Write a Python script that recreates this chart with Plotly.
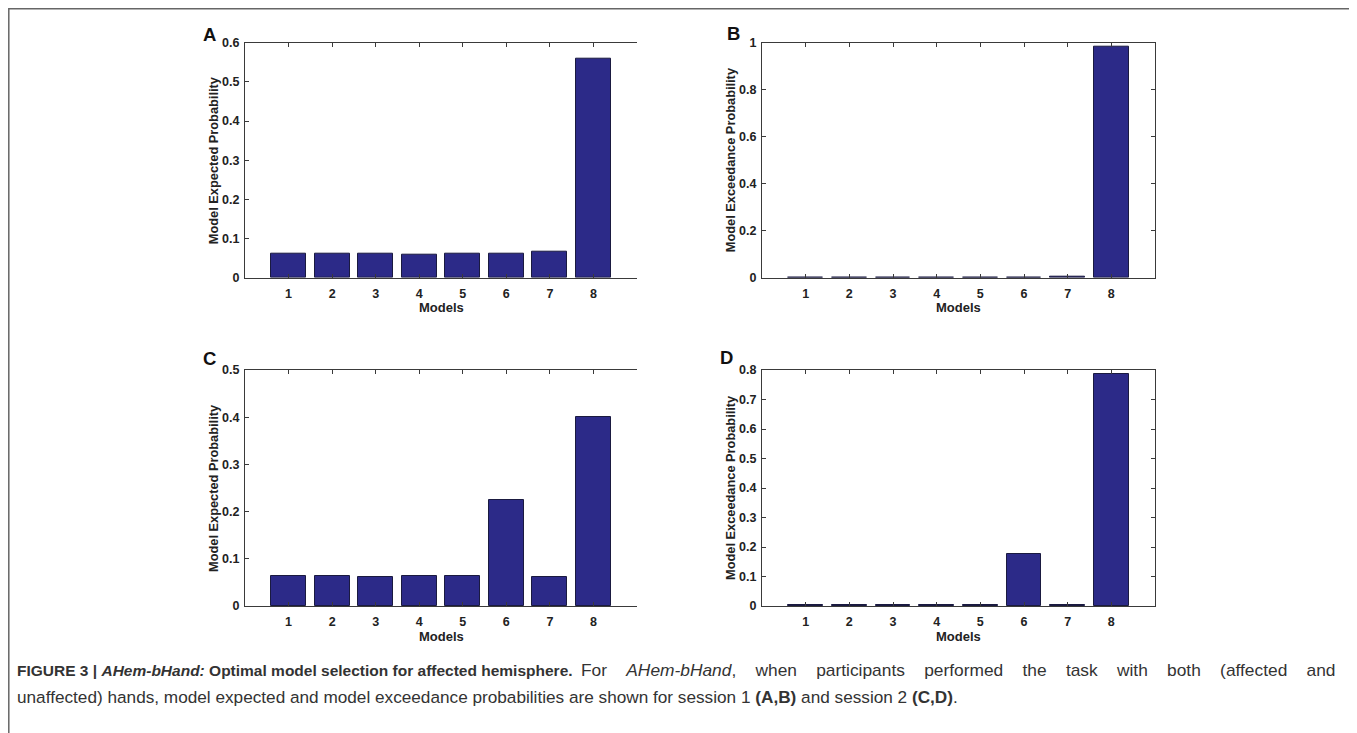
import plotly.graph_objects as go

W, H = 1357, 733
OFF = 8  # page body margin offset

models = [1, 2, 3, 4, 5, 6, 7, 8]
tick_labels = ["1", "2", "3", "4", "5", "6", "7", "8"]

expected_s1 = [0.061, 0.062, 0.062, 0.060, 0.062, 0.061, 0.067, 0.558]
exceed_s1 = [0.001, 0.001, 0.001, 0.001, 0.001, 0.001, 0.003, 0.984]
expected_s2 = [0.063, 0.063, 0.062, 0.063, 0.063, 0.224, 0.062, 0.400]
exceed_s2 = [0.005, 0.004, 0.004, 0.004, 0.004, 0.175, 0.005, 0.786]

yticks_A = [0, 0.1, 0.2, 0.3, 0.4, 0.5, 0.6]
yticks_B = [0, 0.2, 0.4, 0.6, 0.8, 1]
yticks_C = [0, 0.1, 0.2, 0.3, 0.4, 0.5]
yticks_D = [0, 0.1, 0.2, 0.3, 0.4, 0.5, 0.6, 0.7, 0.8]

BAR = "#2c2a88"
AX = "#3a3a3a"
FONT = "Liberation Sans, Arial, sans-serif"


def px_x(p):
    return (p - OFF) / W


def px_y(p):
    return 1 - (p - OFF) / H


def fmt(v):
    return "0" if v == 0 else ("%g" % v)


panels = [
    # letter, values, yticks, ytitle, x0, x1, ytop, ybot, full box, letter x, letter y
    ("A", expected_s1, yticks_A, "Model Expected Probability", 245, 637, 42.7, 277.7, False, 209.5, 35),
    ("B", exceed_s1, yticks_B, "Model Exceedance Probability", 762, 1155, 42.7, 277.7, True, 733, 34),
    ("C", expected_s2, yticks_C, "Model Expected Probability", 245, 637, 370, 606, False, 209.5, 358.5),
    ("D", exceed_s2, yticks_D, "Model Exceedance Probability", 762, 1155, 370, 606, True, 726, 357.5),
]

fig = go.Figure()
annotations = []
for i, (letter, vals, yt, ytitle, x0, x1, yt0, yb0, full, lx, ly) in enumerate(panels):
    n = "" if i == 0 else str(i + 1)
    fig.add_trace(go.Bar(
        x=models, y=vals, width=0.8,
        marker=dict(color=BAR, line=dict(color="#1a1a40", width=1)),
        xaxis="x" + n, yaxis="y" + n, showlegend=False,
    ))
    fig.update_layout(**{
        "xaxis" + n: dict(
            domain=[px_x(x0), px_x(x1)], anchor="y" + n,
            range=[0, 9], tickvals=models,
            ticktext=["<b>" + t + "</b>" for t in tick_labels],
            ticks="inside", ticklen=4, tickcolor=AX, tickwidth=1,
            showline=True, linecolor=AX, linewidth=1,
            mirror="ticks", showgrid=False, zeroline=False,
            tickfont=dict(family=FONT, size=12.5, color="#222"),
            ticklabelstandoff=4, automargin=False,
        ),
        "yaxis" + n: dict(
            domain=[px_y(yb0), px_y(yt0)], anchor="x" + n,
            range=[0, yt[-1]], tickvals=yt,
            ticktext=["<b>" + fmt(v) + "</b>" for v in yt],
            ticks="inside", ticklen=4, tickcolor=AX, tickwidth=1,
            showline=True, linecolor=AX, linewidth=1,
            mirror="ticks" if full else False, showgrid=False, zeroline=False,
            tickfont=dict(family=FONT, size=12.5, color="#222"),
            ticklabelstandoff=2, automargin=False,
        ),
    })
    annotations.append(dict(
        x=px_x(x0 - 32), y=px_y((yt0 + yb0) / 2), xref="paper", yref="paper",
        text="<b>" + ytitle + "</b>", textangle=-90, showarrow=False,
        font=dict(family=FONT, size=12.8, color="#222"),
        xanchor="center", yanchor="middle",
    ))
    annotations.append(dict(
        x=px_x(x0 + (x1 - x0) / 2 if full else x0 + (x1 - x0) / 2 + 1),
        y=px_y(yb0 + 30), xref="paper", yref="paper",
        text="<b>Models</b>", showarrow=False,
        font=dict(family=FONT, size=13, color="#222"),
        xanchor="center", yanchor="middle",
    ))
    annotations.append(dict(
        x=px_x(lx), y=px_y(ly), xref="paper", yref="paper",
        text="<b>" + letter + "</b>", showarrow=False,
        font=dict(family=FONT, size=18.5, color="#111"),
        xanchor="center", yanchor="middle",
    ))

sp = "&nbsp;" * 3
cap1_bold = "<b>FIGURE 3 | <i>AHem-bHand:</i> Optimal model selection for affected hemisphere.</b>"
cap1_rest = "For <i>AHem-bHand</i>, when participants performed the task with both (affected and"
cap2 = ("unaffected) hands, model expected and model exceedance probabilities are shown for session 1 "
        "<b>(A,B)</b> and session 2 <b>(C,D)</b>.")
annotations.append(dict(
    x=px_x(15), y=px_y(670), xref="paper", yref="paper", text=cap1_bold,
    showarrow=False, xanchor="left", yanchor="middle",
    font=dict(family=FONT, size=15.5, color="#333"),
))
annotations.append(dict(
    x=px_x(1338), y=px_y(670), xref="paper", yref="paper",
    text=cap1_rest.replace(" ", " " + sp),
    showarrow=False, xanchor="right", yanchor="middle",
    font=dict(family=FONT, size=17.35, color="#333"),
))
annotations.append(dict(
    x=px_x(15), y=px_y(697), xref="paper", yref="paper", text=cap2,
    showarrow=False, xanchor="left", yanchor="middle",
    font=dict(family=FONT, size=17.2, color="#333"),
))

fig.update_layout(
    template="none",
    width=W, height=H, margin=dict(l=0, r=0, t=0, b=0, autoexpand=False),
    paper_bgcolor="white", plot_bgcolor="white",
    annotations=annotations, bargap=0,
    shapes=[dict(type="rect", xref="paper", yref="paper",
                 x0=px_x(8.8), x1=px_x(1354), y0=px_y(760), y1=px_y(8.8),
                 line=dict(color="#666", width=1.5))],
)

fig.write_html("out.html")
